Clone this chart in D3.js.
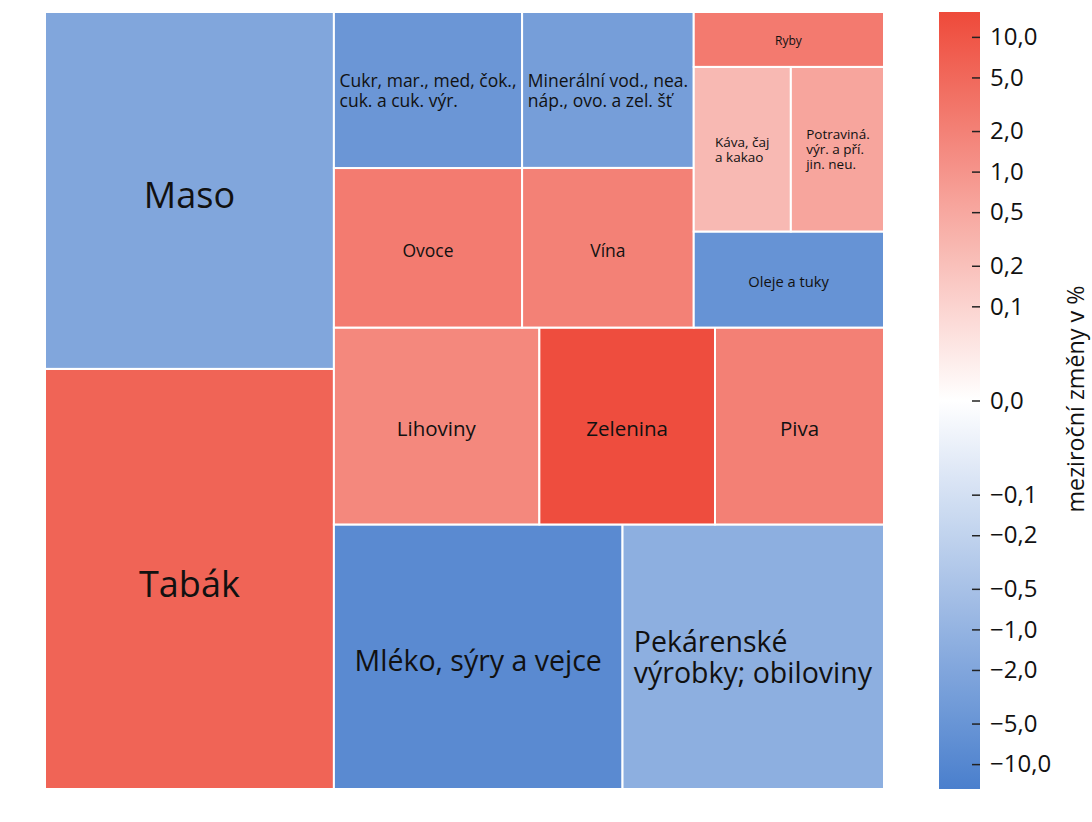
<!DOCTYPE html>
<html><head><meta charset="utf-8">
<script src="https://cdn.jsdelivr.net/npm/d3@7"></script>
<style>body{margin:0;background:#fff}</style>
</head><body><svg id="chart" width="1092" height="822"></svg>
<script>
const categories = ["Tabák","Maso","Mléko, sýry a vejce","Pekárenské\nvýrobky; obiloviny","Lihoviny","Zelenina","Piva","Ovoce","Cukr, mar., med, čok.,\ncuk. a cuk. výr.","Vína","Minerální vod., nea.\nnáp., ovo. a zel. šť","Oleje a tuky","Káva, čaj\na kakao","Potraviná.\nvýr. a pří.\njin. neu.","Ryby"];
const weights = [18.6,15.8,11.7,10.6,6.2,5.3,5.1,4.6,4.5,4.2,4.1,2.8,2.45,2.35,1.6];
const changes = [5.9,-2.0,-8.6,-1.3,1.6,13.5,2.1,2.5,-4.6,2.0,-3.0,-5.4,0.26,0.55,2.6];
const colorTicks = [10,5,2,1,0.5,0.2,0.1,0,-0.1,-0.2,-0.5,-1,-2,-5,-10];
const colorMax = 15.3;
const colorTitle = "meziroční změny v %";

const FONT = "'Open Sans', sans-serif";
const svg = d3.select("#chart");
const L = 45, R = 884, T = 12, B = 789;

// signed log transform used by the colour bar
const floorV = 0.02;
const tf = v => Math.sign(v) * Math.max(0, Math.log10(Math.abs(v) / floorV));
const tMax = tf(colorMax);

const color = d3.scaleLinear().domain([-tMax, 0, tMax])
  .range(["#4a7fcd", "#ffffff", "#ee4a3a"]).clamp(true);

const root = d3.hierarchy({children: categories.map((c, i) => ({name: c, weight: weights[i], change: changes[i]}))})
  .sum(d => d.weight || 0);
d3.treemap().tile(d3.treemapSquarify.ratio(1)).size([1, 1]).round(false)(root);

const x = d3.scaleLinear().domain([0, 1]).range([L, R]);
const y = d3.scaleLinear().domain([0, 1]).range([B, T]);

function fontSize(w) {
  if (w >= 15) return 36;
  if (w >= 10) return 28.5;
  if (w >= 5) return 20.5;
  if (w >= 4) return 17.5;
  if (w >= 2.5) return 14.7;
  if (w >= 2) return 13.5;
  return 12;
}

const cells = svg.append("g").selectAll("g").data(root.leaves()).join("g");
cells.append("rect")
  .attr("x", d => x(d.x0)).attr("y", d => y(d.y1))
  .attr("width", d => x(d.x1) - x(d.x0)).attr("height", d => y(d.y0) - y(d.y1))
  .attr("fill", d => color(tf(d.data.change)))
  .attr("stroke", "#fff").attr("stroke-width", 2);

cells.each(function(d) {
  const g = d3.select(this);
  const lines = d.data.name.split("\n");
  const fs = fontSize(d.data.weight);
  const t = g.append("text").attr("font-family", FONT).attr("font-size", fs).attr("fill", "#111");
  lines.forEach((l, i) => t.append("tspan").attr("x", 0).attr("dy", i ? fs * 1.1 : 0).text(l));
  const bb = t.node().getBBox();
  const cx = (x(d.x0) + x(d.x1)) / 2, cy = (y(d.y0) + y(d.y1)) / 2;
  const off = lines.length === 1 ? fs * 0.12 : 0;
  t.attr("transform", `translate(${cx - bb.x - bb.width / 2},${cy - bb.y - bb.height / 2 + off})`);
});

// colour bar
const cbX = 939, cbW = 41;
const cbY = d3.scaleLinear().domain([-tMax, tMax]).range([B, T]);
const defs = svg.append("defs");
const grad = defs.append("linearGradient").attr("id", "cbgrad")
  .attr("x1", 0).attr("y1", 1).attr("x2", 0).attr("y2", 0);
d3.range(0, 1.0001, 0.05).forEach(p => {
  grad.append("stop").attr("offset", p).attr("stop-color", color(-tMax + 2 * tMax * p));
});
svg.append("rect").attr("x", cbX).attr("y", cbY(tMax)).attr("width", cbW)
  .attr("height", cbY(-tMax) - cbY(tMax)).attr("fill", "url(#cbgrad)");

const fmt = d3.format(".1f");
const axis = d3.axisRight(cbY)
  .tickValues(colorTicks.map(tf))
  .tickFormat((t, i) => fmt(colorTicks[i]).replace(".", ","))
  .tickSize(8).tickPadding(10);
const ax = svg.append("g").attr("transform", `translate(${cbX + cbW - 8},0)`).call(axis);
ax.select(".domain").remove();
ax.selectAll(".tick line").attr("stroke", "#222").attr("stroke-width", 1.5);
ax.selectAll(".tick text").attr("font-family", FONT).attr("font-size", 24).attr("fill", "#111");

svg.append("text").attr("transform", "translate(1078,399) rotate(-90)")
  .attr("text-anchor", "middle").attr("dominant-baseline", "middle")
  .attr("font-family", FONT).attr("font-size", 23.3).attr("fill", "#111")
  .text(colorTitle);
</script></body></html>
